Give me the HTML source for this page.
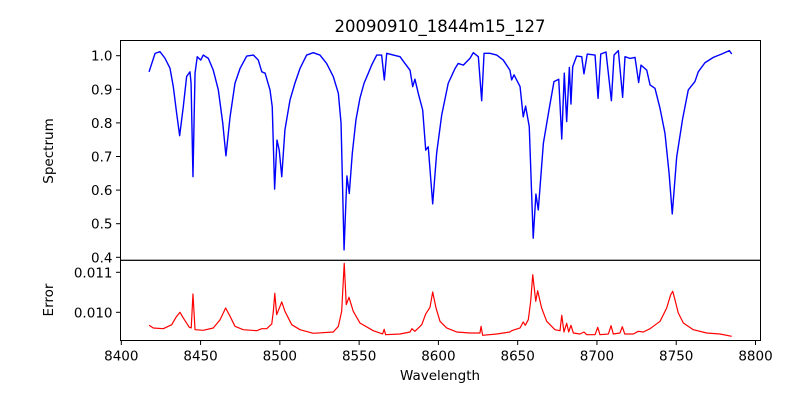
<!DOCTYPE html>
<html><head><meta charset="utf-8"><style>
html,body{margin:0;padding:0;background:#fff;}
svg{display:block;font-family:"DejaVu Sans","Liberation Sans",sans-serif;}
</style></head><body>
<svg id="chart" width="800" height="400" viewBox="0 0 800 400" xmlns="http://www.w3.org/2000/svg">
<rect width="800" height="400" fill="#fff"/>
<text x="440" y="32" text-anchor="middle" font-size="16.5">20090910_1844m15_127</text>
<g id="topAx"></g>
<g id="botAx"></g>
<text x="0" y="0" transform="translate(53,151) rotate(-90)" text-anchor="middle" font-size="13.5">Spectrum</text>
<text x="0" y="0" transform="translate(53,300) rotate(-90)" text-anchor="middle" font-size="13.5">Error</text>
<text x="440" y="380" text-anchor="middle" font-size="13.5">Wavelength</text>
</svg>
<script>
const specWave=[8417.5,8421.3,8424.4,8427.6,8430.7,8432.8,8434.9,8436.8,8439.1,8441.2,8443.3,8444.0,8445.2,8446.5,8447.9,8450.1,8451.7,8454.9,8458.0,8461.2,8464.0,8466.0,8468.6,8471.7,8474.9,8479.1,8483.3,8486.4,8488.6,8490.7,8493.8,8495.2,8496.7,8498.2,8499.6,8501.2,8503.2,8506.4,8509.5,8512.7,8516.9,8521.1,8525.3,8529.5,8533.7,8536.9,8538.6,8540.5,8542.3,8543.8,8545.7,8548.0,8550.5,8553.1,8555.8,8557.9,8561.1,8564.2,8565.9,8567.4,8571.6,8575.8,8578.9,8582.1,8583.8,8585.2,8587.3,8590.1,8592.0,8593.6,8596.4,8598.9,8602.1,8606.2,8610.5,8612.5,8615.7,8619.9,8622.0,8625.2,8627.3,8628.8,8632.5,8636.8,8640.9,8645.1,8646.2,8647.7,8651.5,8653.5,8655.0,8657.3,8659.8,8661.5,8663.0,8666.2,8669.9,8672.9,8675.9,8677.8,8679.4,8680.9,8682.6,8683.6,8684.7,8687.2,8690.4,8691.8,8693.9,8698.8,8700.7,8702.4,8705.7,8709.1,8710.8,8713.5,8716.2,8717.7,8720.8,8724.0,8726.3,8727.8,8731.4,8733.5,8736.6,8739.8,8742.9,8745.5,8747.5,8750.3,8754.1,8757.6,8761.8,8763.9,8768.1,8773.4,8778.7,8783.5,8785.0];
const specFlux=[0.952,1.007,1.012,0.992,0.963,0.908,0.829,0.762,0.848,0.938,0.952,0.919,0.640,0.948,0.997,0.987,1.002,0.992,0.957,0.898,0.799,0.702,0.818,0.918,0.962,0.999,1.002,0.987,0.952,0.948,0.898,0.848,0.603,0.749,0.719,0.640,0.779,0.868,0.918,0.962,1.002,1.009,1.002,0.977,0.938,0.888,0.799,0.422,0.642,0.590,0.710,0.809,0.873,0.918,0.948,0.972,1.002,1.002,0.928,1.007,1.002,0.997,0.977,0.957,0.908,0.930,0.888,0.838,0.719,0.729,0.559,0.710,0.824,0.918,0.962,0.977,0.972,0.992,1.009,0.997,0.866,1.007,1.007,1.002,0.987,0.957,0.928,0.943,0.908,0.818,0.850,0.789,0.457,0.588,0.541,0.739,0.843,0.923,0.930,0.752,0.948,0.804,0.965,0.856,0.967,0.999,0.997,0.946,1.005,1.002,0.873,1.005,1.011,0.866,1.002,1.015,0.876,0.997,0.992,0.995,0.920,0.972,0.957,0.913,0.903,0.843,0.769,0.650,0.529,0.699,0.814,0.898,0.923,0.952,0.979,0.995,1.005,1.015,1.005];
const errWave=[8417.5,8420.2,8426.5,8431.8,8434.5,8437.0,8439.1,8442.9,8444.1,8445.2,8446.5,8451.7,8458.0,8462.3,8465.8,8468.6,8471.7,8476.9,8485.4,8488.6,8491.7,8494.9,8495.9,8496.8,8498.0,8501.2,8503.2,8507.5,8512.7,8521.1,8533.7,8536.9,8539.0,8540.6,8541.9,8543.6,8546.3,8550.5,8558.9,8564.8,8565.8,8566.7,8575.8,8582.1,8583.3,8585.2,8589.5,8592.0,8594.7,8596.4,8598.5,8601.0,8605.2,8611.5,8619.9,8626.2,8626.9,8627.9,8636.8,8645.1,8646.2,8651.5,8653.5,8654.8,8656.7,8658.2,8659.5,8661.4,8662.6,8665.1,8668.3,8673.5,8676.7,8677.8,8679.2,8680.9,8682.2,8683.6,8685.1,8689.3,8691.8,8693.5,8698.8,8700.5,8701.9,8707.2,8708.9,8710.3,8714.5,8716.0,8717.5,8722.9,8726.1,8729.2,8733.5,8739.8,8744.0,8746.5,8747.8,8749.2,8751.3,8754.5,8760.8,8769.2,8777.6,8785.0];
const errVal=[9.675,9.608,9.59,9.69,9.875,10.0,9.858,9.625,9.608,10.458,9.565,9.55,9.608,9.815,10.108,9.9,9.65,9.565,9.54,9.59,9.59,9.708,10.025,10.475,9.94,10.258,10.025,9.69,9.565,9.475,9.508,9.65,10.025,11.225,10.19,10.375,10.025,9.733,9.54,9.458,9.575,9.44,9.458,9.508,9.59,9.525,9.69,9.958,10.125,10.508,10.108,9.775,9.608,9.508,9.483,9.483,9.65,9.425,9.458,9.508,9.54,9.608,9.758,9.675,9.815,10.275,10.94,10.275,10.54,10.108,9.775,9.565,9.54,9.925,9.508,9.725,9.508,9.675,9.483,9.458,9.508,9.44,9.44,9.625,9.44,9.458,9.665,9.458,9.483,9.64,9.458,9.458,9.525,9.508,9.59,9.775,10.108,10.44,10.525,10.315,9.983,9.733,9.565,9.483,9.458,9.4].map(v=>v/1000);
const xTicks=[8400,8450,8500,8550,8600,8650,8700,8750,8800];
const specTicks=[0.4,0.5,0.6,0.7,0.8,0.9,1.0];
const specTickLabels=["0.4","0.5","0.6","0.7","0.8","0.9","1.0"];
const errTicks=[0.010,0.011];
const errTickLabels=["0.010","0.011"];

const NS="http://www.w3.org/2000/svg";
const L=120.5,R=760.5,T1=40.5,B1=260.3,B2=340.5;
const xS=w=>121.3+(w-8400)*1.5855;
const yS1=v=>55.7+(1-v)*336;
const yS2=e=>312.3-(e-0.010)*40000;
function mk(tag,attrs,parent){const el=document.createElementNS(NS,tag);for(const k in attrs)el.setAttribute(k,attrs[k]);parent.appendChild(el);return el;}
const topG=document.getElementById('topAx'),botG=document.getElementById('botAx');

let p1=mk('path',{d:specWave.map((w,i)=>(i?'L':'M')+xS(w).toFixed(2)+','+yS1(specFlux[i]).toFixed(2)).join(''),fill:'none',stroke:'#0000ff','stroke-width':1.4,'stroke-linejoin':'round'},topG);


let p2=mk('path',{d:errWave.map((w,i)=>(i?'L':'M')+xS(w).toFixed(2)+','+yS2(errVal[i]).toFixed(2)).join(''),fill:'none',stroke:'#ff0000','stroke-width':1.2,'stroke-linejoin':'round'},botG);



let f1=mk('rect',{x:L,y:T1,width:R-L,height:B1-T1,fill:'none',stroke:'#000','stroke-width':1},topG);


let f2=mk('rect',{x:L,y:B1,width:R-L,height:B2-B1,fill:'none',stroke:'#000','stroke-width':1},botG);



specTicks.forEach((v,i)=>{const y=yS1(v);
 let t=mk('line',{x1:L-4.5,x2:L,y1:y,y2:y,stroke:'#000','stroke-width':1},topG);
 
 
 let tx=mk('text',{x:L-8,y:y+5,'text-anchor':'end','font-size':13.5},topG);tx.textContent=specTickLabels[i];
 
 });
errTicks.forEach((v,i)=>{const y=yS2(v);
 let t=mk('line',{x1:L-4.5,x2:L,y1:y,y2:y,stroke:'#000','stroke-width':1},botG);
 
 
 let tx=mk('text',{x:L-8,y:y+5,'text-anchor':'end','font-size':13.5},botG);tx.textContent=errTickLabels[i];
 
 });
xTicks.forEach(w=>{const x=xS(w);
 let t=mk('line',{x1:x,x2:x,y1:B2,y2:B2+4.5,stroke:'#000','stroke-width':1},botG);
 
 
 let tx=mk('text',{x:x,y:B2+20,'text-anchor':'middle','font-size':13.5},botG);tx.textContent=String(w);
 
 });
</script>
</body></html>
